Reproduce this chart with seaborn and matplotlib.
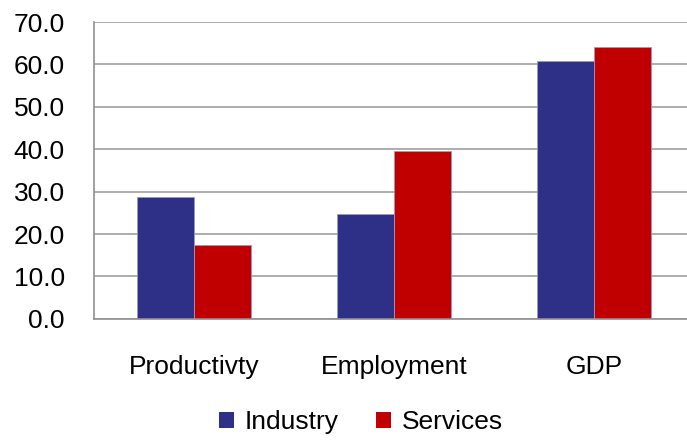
import numpy as np
import pandas as pd
import matplotlib.pyplot as plt
import seaborn as sns
from matplotlib.patches import Patch

# Dữ liệu
categories = ['Productivty', 'Employment', 'GDP']
series = ['Industry', 'Services']
industry = [28.8, 24.7, 60.7]
services = [17.5, 39.5, 64.1]
colors = ['#2E3087', '#C00000']
y_ticks = [0, 10, 20, 30, 40, 50, 60, 70]

df = pd.DataFrame({
    'category': categories * 2,
    'series': [series[0]] * 3 + [series[1]] * 3,
    'value': industry + services,
})

sns.set_style('white')
plt.rcParams['font.family'] = ['Liberation Sans Narrow', 'Liberation Sans', 'DejaVu Sans']
plt.rcParams['text.color'] = 'black'
plt.rcParams['xtick.labelcolor'] = 'black'
plt.rcParams['ytick.labelcolor'] = 'black'

fig = plt.figure(figsize=(6.87, 4.41), dpi=100)
ax = fig.add_axes([0.137, 0.277, 0.863, 0.673])

sns.barplot(data=df, x='category', y='value', hue='series', order=categories,
            hue_order=series, palette=colors, width=0.57, gap=0,
            edgecolor='#9a9ab8', linewidth=0.6, saturation=1, ax=ax, legend=False)

# Trục y
ax.set_ylim(0, 70)
ax.set_yticks(y_ticks)
ax.set_yticklabels([f'{v:.1f}' for v in y_ticks])
ax.yaxis.grid(True, color='#a0a0a0', linewidth=1.2)
ax.set_axisbelow(True)
ax.tick_params(axis='y', length=8, color='#909090', width=1.2, labelsize=19, pad=13)

# Trục x
ax.set_xlim(-0.5, 2.465)
ax.set_xticks([-0.5, 0.5, 1.5], minor=True)
ax.tick_params(axis='x', which='minor', length=6, color='#909090', width=1.2)
ax.tick_params(axis='x', which='major', length=0, labelsize=19, pad=26)
ax.set_xlabel('')
ax.set_ylabel('')

for side in ['top', 'right']:
    ax.spines[side].set_visible(False)
for side in ['left', 'bottom']:
    ax.spines[side].set_color('#909090')
    ax.spines[side].set_linewidth(1.2)

# Chú thích
handles = [Patch(facecolor=c, edgecolor='none') for c in colors]
fig.legend(handles, series, loc='center', bbox_to_anchor=(0.525, 0.042), ncol=2,
           frameon=False, fontsize=19, handlelength=0.58, handleheight=0.58,
           handletextpad=0.4, columnspacing=1.4)

fig.savefig('out.png', dpi=100)
